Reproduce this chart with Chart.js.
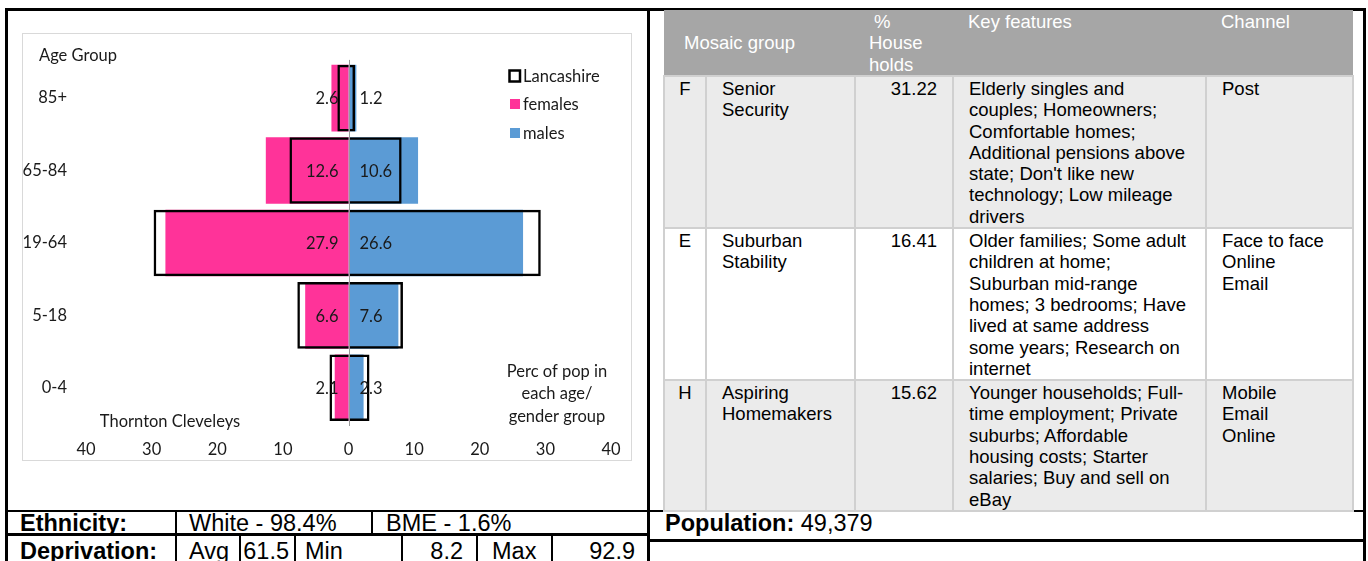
<!DOCTYPE html>
<html lang="en">
<head>
<meta charset="UTF-8">
<title>Thornton Cleveleys – ward profile</title>
<script src="https://cdn.jsdelivr.net/npm/chart.js"></script>
<style>
  body { margin: 0; background: #fff; font-family: 'Liberation Sans', Arial, sans-serif; color: #000; }
  #page { position: relative; width: 1368px; height: 561px; overflow: hidden; }
  .ln { position: absolute; background: #000; }
  #chartBox { position: absolute; left: 22px; top: 33px; width: 608px; height: 426px; border: 1px solid #d9d9d9; }
  #pyramid { position: absolute; left: 22px; top: 33px; }

  #mosaic {
    position: absolute; left: 663px; top: 10px; width: 689px;
    border-collapse: collapse; table-layout: fixed;
    font-size: 18.5px; line-height: 21.3px; white-space: nowrap;
  }
  #mosaic th {
    background: #a6a6a6; color: #fff; font-weight: normal; text-align: left;
    vertical-align: top; padding: 1px 0 0 15px; height: 64px; border: 0;
  }
  #mosaic th.grp { vertical-align: middle; padding: 0 0 0 20px; }
  #mosaic th.pct { padding-left: 14px; }
  #mosaic td {
    border: 2px solid #d0d0d0; vertical-align: top; padding: 1px 0 0 15px;
  }
  #mosaic tr.shade td { background: #ebebeb; }
  #mosaic td.code { text-align: center; padding-left: 0; }
  #mosaic td.num { text-align: right; padding: 1px 15px 0 0; }

  .txt { position: absolute; font-size: 23.5px; line-height: 23.5px; white-space: nowrap; }
  .txt b { font-weight: bold; }
  .r { text-align: right; }
</style>
</head>
<body>
<div id="page">
  <!-- frame -->
  <div class="ln" style="left:5px; top:8px; width:1361px; height:2.5px"></div>
  <div class="ln" style="left:5px; top:8px; width:2.5px; height:553px"></div>
  <div class="ln" style="left:647px; top:8px; width:2.5px; height:553px"></div>
  <div class="ln" style="left:1363px; top:8px; width:3px; height:553px"></div>
  <div class="ln" style="left:5px; top:509.5px; width:1361px; height:2.5px"></div>
  <div class="ln" style="left:5px; top:533px; width:644px; height:2.5px"></div>
  <div class="ln" style="left:647px; top:539px; width:719px; height:2.5px"></div>
  <div class="ln" style="left:175px; top:510px; width:2px; height:51px"></div>
  <div class="ln" style="left:371px; top:510px; width:2px; height:24px"></div>
  <div class="ln" style="left:239px; top:534px; width:2px; height:27px"></div>
  <div class="ln" style="left:294px; top:534px; width:2px; height:27px"></div>
  <div class="ln" style="left:401px; top:534px; width:2px; height:27px"></div>
  <div class="ln" style="left:476px; top:534px; width:2px; height:27px"></div>
  <div class="ln" style="left:551px; top:534px; width:2px; height:27px"></div>

  <div id="chartBox"></div>
  <canvas id="pyramid" width="609" height="427"></canvas>

  <table id="mosaic">
    <colgroup>
      <col style="width:42px"><col style="width:149px"><col style="width:98px">
      <col style="width:253px"><col style="width:147px">
    </colgroup>
    <thead>
      <tr>
        <th class="grp" colspan="2">Mosaic group</th>
        <th class="pct"><span style="padding-left:5px">%</span><br>House<br>holds</th>
        <th>Key features</th>
        <th>Channel</th>
      </tr>
    </thead>
    <tbody>
      <tr class="shade" style="height:152px">
        <td class="code">F</td>
        <td>Senior<br>Security</td>
        <td class="num">31.22</td>
        <td>Elderly singles and<br>couples; Homeowners;<br>Comfortable homes;<br>Additional pensions above<br>state; Don't like new<br>technology; Low mileage<br>drivers</td>
        <td>Post</td>
      </tr>
      <tr style="height:150px">
        <td class="code">E</td>
        <td>Suburban<br>Stability</td>
        <td class="num">16.41</td>
        <td>Older families; Some adult<br>children at home;<br>Suburban mid-range<br>homes; 3 bedrooms; Have<br>lived at same address<br>some years; Research on<br>internet</td>
        <td>Face to face<br>Online<br>Email</td>
      </tr>
      <tr class="shade" style="height:129px">
        <td class="code">H</td>
        <td>Aspiring<br>Homemakers</td>
        <td class="num">15.62</td>
        <td>Younger households; Full-<br>time employment; Private<br>suburbs; Affordable<br>housing costs; Starter<br>salaries; Buy and sell on<br>eBay</td>
        <td>Mobile<br>Email<br>Online</td>
      </tr>
    </tbody>
  </table>

  <!-- bottom summary rows -->
  <div class="txt" style="left:20px; top:512px"><b>Ethnicity:</b></div>
  <div class="txt" style="left:189px; top:512px">White - 98.4%</div>
  <div class="txt" style="left:386px; top:512px">BME - 1.6%</div>
  <div class="txt" style="left:665px; top:512px"><b>Population:</b> 49,379</div>
  <div class="txt" style="left:20px; top:540px"><b>Deprivation:</b></div>
  <div class="txt" style="left:189px; top:540px">Avg</div>
  <div class="txt r" style="left:241px; width:48px; top:540px">61.5</div>
  <div class="txt" style="left:305px; top:540px">Min</div>
  <div class="txt r" style="left:403px; width:60px; top:540px">8.2</div>
  <div class="txt" style="left:492px; top:540px">Max</div>
  <div class="txt r" style="left:553px; width:82px; top:540px">92.9</div>
</div>

<script>
// population share (%) by age group, Thornton Cleveleys vs Lancashire
const ageGroups = ['85+', '65-84', '19-64', '5-18', '0-4'];
const females = [2.6, 12.6, 27.9, 6.6, 2.1];
const males = [1.2, 10.6, 26.6, 7.6, 2.3];
const lancsFemales = [1.7, 9.0, 29.7, 7.8, 2.9];
const lancsMales = [1.0, 8.1, 29.3, 8.3, 3.2];
const xTickValues = [-40, -30, -20, -10, 0, 10, 20, 30, 40];

const PINK = '#ff3399';
const BLUE = '#5b9bd5';
const FONT = "'Lato', 'Open Sans', sans-serif";
const TEXT = '#1a1a1a';

Chart.defaults.font.family = FONT;
Chart.defaults.font.size = 16.5;
Chart.defaults.color = TEXT;

// legend entries drawn in the top right corner
const legendItems = [
  { label: 'Lancashire', outline: true },
  { label: 'females', color: PINK },
  { label: 'males', color: BLUE }
];

const pyramidDecor = {
  id: 'pyramidDecor',
  afterDatasetsDraw(chart) {
    const { ctx, chartArea, scales } = chart;
    const x0 = scales.x.getPixelForValue(0);

    // centre axis line
    ctx.save();
    ctx.strokeStyle = '#9a9a9a';
    ctx.lineWidth = 1;
    ctx.beginPath();
    ctx.moveTo(Math.round(x0) + 0.5, chartArea.top - 2);
    ctx.lineTo(Math.round(x0) + 0.5, chartArea.bottom + 2);
    ctx.stroke();

    // value labels at the base of the local bars
    ctx.font = '16.5px ' + FONT;
    ctx.fillStyle = TEXT;
    ctx.textBaseline = 'middle';
    ageGroups.forEach((g, i) => {
      const y = scales.y.getPixelForValue(i);
      ctx.textAlign = 'right';
      ctx.fillText(females[i].toFixed(1), x0 - 10, y + 1);
      ctx.textAlign = 'left';
      ctx.fillText(males[i].toFixed(1), x0 + 11, y + 1);
    });

    // free text
    ctx.textAlign = 'left';
    ctx.fillText('Age Group', 17, 23);
    ctx.textAlign = 'center';
    ctx.fillText('Thornton Cleveleys', 148, 389);
    ctx.fillText('Perc of pop in', 535, 339);
    ctx.fillText('each age/', 535, 361);
    ctx.fillText('gender group', 535, 384);

    // legend
    const lx = 487, ly = [43, 71, 100];
    legendItems.forEach((item, i) => {
      const cy = ly[i];
      if (item.outline) {
        ctx.strokeStyle = '#000';
        ctx.lineWidth = 2.5;
        ctx.strokeRect(lx + 0.5, cy - 5.5, 10.5, 11);
      } else {
        ctx.fillStyle = item.color;
        ctx.fillRect(lx + 1, cy - 5, 10, 10);
      }
      ctx.fillStyle = TEXT;
      ctx.textAlign = 'left';
      ctx.fillText(item.label, lx + 14, cy + 1);
    });
    ctx.restore();
  }
};

const barCommon = {
  grouped: false,
  categoryPercentage: 1,
  barPercentage: 0.92
};

new Chart(document.getElementById('pyramid'), {
  type: 'bar',
  data: {
    labels: ageGroups,
    datasets: [
      Object.assign({
        label: 'Lancashire',
        data: lancsFemales.map(v => -v),
        backgroundColor: 'rgba(0,0,0,0)',
        borderColor: '#000',
        borderWidth: 2.5,
        borderSkipped: 'start'
      }, barCommon),
      Object.assign({
        label: 'Lancashire males',
        data: lancsMales,
        backgroundColor: 'rgba(0,0,0,0)',
        borderColor: '#000',
        borderWidth: 2.5,
        borderSkipped: 'start'
      }, barCommon),
      Object.assign({
        label: 'females',
        data: females.map(v => -v),
        backgroundColor: PINK,
        borderWidth: 0
      }, barCommon),
      Object.assign({
        label: 'males',
        data: males,
        backgroundColor: BLUE,
        borderWidth: 0
      }, barCommon)
    ]
  },
  options: {
    indexAxis: 'y',
    responsive: false,
    animation: false,
    devicePixelRatio: 1,
    layout: { padding: { top: 27, right: 20, left: 0, bottom: 0 } },
    plugins: { legend: { display: false }, tooltip: { enabled: false } },
    scales: {
      x: {
        type: 'linear',
        min: -40,
        max: 40,
        afterBuildTicks: s => { s.ticks = xTickValues.map(v => ({ value: v })); },
        afterFit: s => { s.height = 36; s.paddingLeft = 0; s.paddingRight = 0; },
        ticks: { padding: 16, maxRotation: 0, callback: v => Math.abs(v) },
        grid: { display: false, drawTicks: false },
        border: { display: false }
      },
      y: {
        afterFit: s => { s.width = 64; },
        ticks: { padding: 19 },
        grid: { display: false, drawTicks: false },
        border: { display: false }
      }
    }
  },
  plugins: [pyramidDecor]
});
</script>
</body>
</html>
